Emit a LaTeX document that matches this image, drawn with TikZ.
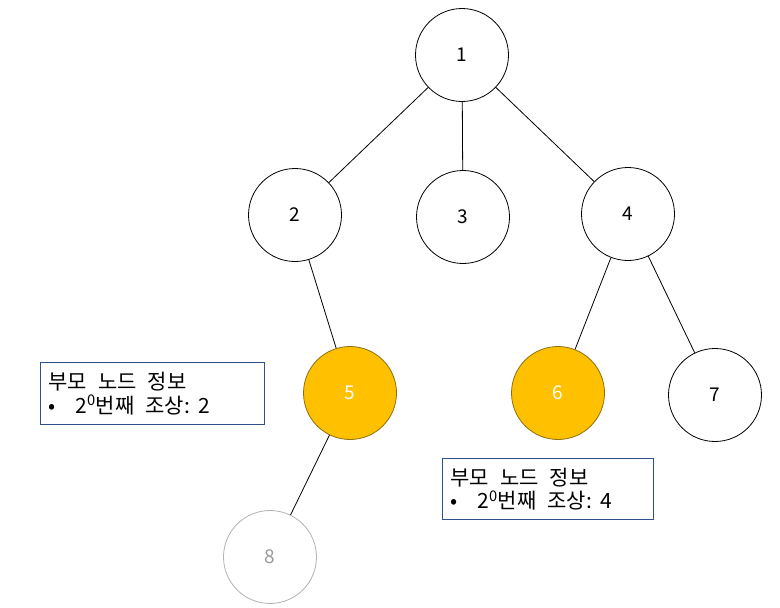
\documentclass[tikz,border=0pt]{standalone}
\usepackage{fontspec}
\setmainfont{Noto Sans CJK KR}
\newcommand{\wsp}{\hspace{11pt}}
\begin{document}
\begin{tikzpicture}[x=1pt,y=1pt,
  tnode/.style={circle, draw=black, line width=0.8pt, minimum size=93pt, inner sep=0pt, font=\fontsize{19}{22}\selectfont},
  hl/.style={tnode, fill=orangeY, draw=borderY, text=white},
  faded/.style={tnode, draw=gray!60, text=gray!80},
  edge/.style={draw=black, line width=0.8pt},
  infobox/.style={draw=boxblue, line width=0.9pt, anchor=north west, align=left, inner xsep=8pt, inner ysep=4pt, font=\fontsize{21}{23.5}\selectfont}
]
\definecolor{orangeY}{HTML}{FFC000}
\definecolor{borderY}{HTML}{8F7010}
\definecolor{boxblue}{HTML}{2F528F}
\useasboundingbox (0,0) rectangle (780,-608);
\node[tnode] (n1) at (462,-55) {1};
\node[tnode] (n2) at (295,-215) {2};
\node[tnode] (n3) at (463,-217) {3};
\node[tnode] (n4) at (628,-214) {4};
\node[hl] (n5) at (350,-393) {5};
\node[hl] (n6) at (558,-393) {6};
\node[tnode] (n7) at (715,-395) {7};
\node[faded] (n8) at (270,-557) {8};
\draw[edge] (n1) -- (n2);
\draw[edge] (n1) -- (n3);
\draw[edge] (n1) -- (n4);
\draw[edge] (n2) -- (n5);
\draw[edge] (n4) -- (n6);
\draw[edge] (n4) -- (n7);
\draw[edge] (n5) -- (n8);
\node[infobox, minimum width=224pt, minimum height=62pt, text width=208pt] (b1) at (40,-362) {부모\wsp 노드\wsp 정보\\ •\hspace{20pt}2\textsuperscript{0}번째\wsp 조상:\hspace{8pt}2};
\node[infobox, minimum width=211pt, minimum height=61pt, text width=195pt] (b2) at (442,-458) {부모\wsp 노드\wsp 정보\\ •\hspace{20pt}2\textsuperscript{0}번째\wsp 조상:\hspace{8pt}4};
\end{tikzpicture}
\end{document}
